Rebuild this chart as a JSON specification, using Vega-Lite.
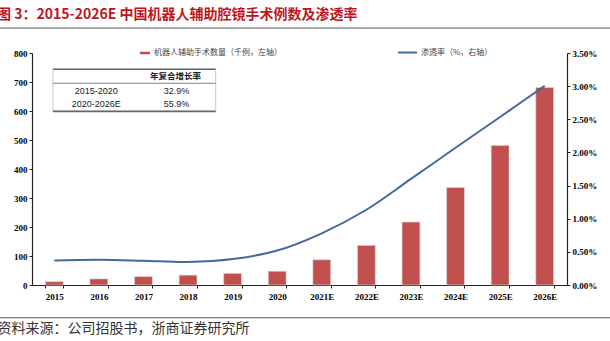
{
  "$schema": "https://vega.github.io/schema/vega-lite/v6.json",
  "width": 535,
  "height": 232,
  "autosize": {"type": "none"},
  "padding": {"left": 32, "top": 53, "right": 43, "bottom": 56},
  "background": "white",
  "title": {
    "text": "图 3：2015-2026E 中国机器人辅助腔镜手术例数及渗透率",
    "anchor": "start",
    "frame": "group",
    "dx": -35,
    "offset": 6,
    "font": "Noto Sans CJK SC",
    "fontSize": 14,
    "fontWeight": "bold",
    "color": "#C0141E"
  },
  "datasets": {
    "main": [
      {"year": "2015", "cases": 11.5, "rate": 0.00371},
      {"year": "2016", "cases": 21, "rate": 0.0038},
      {"year": "2017", "cases": 29, "rate": 0.00366},
      {"year": "2018", "cases": 34, "rate": 0.00347},
      {"year": "2019", "cases": 40, "rate": 0.00392},
      {"year": "2020", "cases": 47.5, "rate": 0.0052},
      {"year": "2021E", "cases": 87, "rate": 0.0078},
      {"year": "2022E", "cases": 136.5, "rate": 0.01135},
      {"year": "2023E", "cases": 217, "rate": 0.016},
      {"year": "2024E", "cases": 336.5, "rate": 0.0207},
      {"year": "2025E", "cases": 481, "rate": 0.02535},
      {"year": "2026E", "cases": 681, "rate": 0.03005}
    ],
    "cagr": [
      {"period": "2015-2020", "value": "32.9%"},
      {"period": "2020-2026E", "value": "55.9%"}
    ]
  },
  "config": {
    "view": {"stroke": null},
    "axis": {
      "labelFont": "Liberation Serif",
      "labelFontWeight": "bold",
      "labelFontSize": 9,
      "labelColor": "#000",
      "domainColor": "#222",
      "domainWidth": 1.2,
      "tickColor": "#222",
      "tickSize": 3,
      "grid": false
    },
    "legend": {
      "orient": "none",
      "padding": 0,
      "labelFont": "Noto Sans CJK SC",
      "labelFontSize": 8,
      "labelColor": "#444",
      "title": null
    }
  },
  "layer": [
    {
      "data": {"name": "main"},
      "mark": {"type": "bar", "stroke": "#d8d8d8", "strokeWidth": 0.6},
      "encoding": {
        "x": {
          "field": "year", "type": "nominal", "sort": null,
          "scale": {"paddingInner": 0.6, "paddingOuter": 0.3},
          "axis": {
            "labelAngle": 0, "tickBand": "extent", "tickSize": 3, "labelPadding": 4,
            "title": "资料来源：公司招股书，浙商证券研究所",
            "titleAnchor": "start", "titleAlign": "left", "titleBaseline": "middle",
            "titleX": -35, "titleY": 43,
            "titleFont": "Noto Sans CJK SC", "titleFontWeight": "normal",
            "titleFontSize": 14, "titleColor": "#333"
          }
        },
        "y": {
          "field": "cases", "type": "quantitative",
          "scale": {"domain": [0, 800]},
          "axis": {"orient": "left", "values": [0, 100, 200, 300, 400, 500, 600, 700, 800], "title": null, "labelPadding": 2}
        },
        "fill": {
          "datum": "机器人辅助手术数量（千例，左轴）",
          "scale": {"range": ["#C0504D"]},
          "legend": {
            "legendX": 108, "legendY": -5,
            "symbolType": "M-1,-0.25L1,-0.25L1,0.25L-1,0.25Z",
            "symbolSize": 100, "symbolStrokeWidth": 0, "labelOffset": 4
          }
        }
      }
    },
    {
      "data": {"name": "main"},
      "mark": {"type": "line", "interpolate": "catmull-rom", "strokeWidth": 2},
      "encoding": {
        "x": {"field": "year", "type": "nominal", "sort": null, "axis": null},
        "y": {
          "field": "rate", "type": "quantitative",
          "scale": {"domain": [0, 0.035]},
          "axis": {"orient": "right", "format": ".2%", "values": [0, 0.005, 0.01, 0.015, 0.02, 0.025, 0.03, 0.035], "title": null, "labelPadding": 2}
        },
        "stroke": {
          "datum": "渗透率（%，右轴）",
          "scale": {"range": ["#44699E"]},
          "legend": {
            "legendX": 365, "legendY": -11,
            "symbolType": "stroke", "symbolSize": 360, "symbolStrokeWidth": 2, "labelOffset": 3
          }
        }
      }
    },
    {
      "data": {"values": [{}]},
      "mark": {"type": "rect", "fill": "white", "stroke": "#bdbdbd", "strokeWidth": 0.8},
      "encoding": {
        "x": {"datum": 0.47, "type": "quantitative", "scale": {"domain": [0, 12]}, "axis": null},
        "x2": {"datum": 4.12},
        "y": {"datum": 744, "type": "quantitative", "scale": {"domain": [0, 800]}, "axis": null},
        "y2": {"datum": 598.6}
      }
    },
    {
      "data": {"values": [{"ly": 744, "w": 1.6}, {"ly": 695.5, "w": 0.8}, {"ly": 598.6, "w": 1.6}]},
      "mark": {"type": "rule", "color": "#666"},
      "encoding": {
        "x": {"datum": 0.47, "type": "quantitative", "scale": {"domain": [0, 12]}, "axis": null},
        "x2": {"datum": 4.12},
        "y": {"field": "ly", "type": "quantitative", "scale": {"domain": [0, 800]}, "axis": null},
        "strokeWidth": {"field": "w", "type": "quantitative", "scale": null, "legend": null}
      }
    },
    {
      "data": {"values": [{}]},
      "mark": {"type": "text", "text": "年复合增长率", "font": "Noto Sans CJK SC", "fontSize": 8.5, "fontWeight": "bold", "color": "#222"},
      "encoding": {
        "x": {"datum": 3.22, "type": "quantitative", "scale": {"domain": [0, 12]}, "axis": null},
        "y": {"datum": 720, "type": "quantitative", "scale": {"domain": [0, 800]}, "axis": null}
      }
    },
    {
      "data": {"name": "cagr"},
      "mark": {"type": "text", "font": "Liberation Sans", "fontSize": 9, "color": "#222"},
      "encoding": {
        "x": {"datum": 1.44, "type": "quantitative", "scale": {"domain": [0, 12]}, "axis": null},
        "y": {"field": "period", "type": "nominal", "scale": {"type": "point", "padding": 0, "domain": ["2015-2020", "2020-2026E"], "range": [38, 51]}, "axis": null},
        "text": {"field": "period"}
      }
    },
    {
      "data": {"name": "cagr"},
      "mark": {"type": "text", "font": "Liberation Sans", "fontSize": 9, "color": "#222"},
      "encoding": {
        "x": {"datum": 3.24, "type": "quantitative", "scale": {"domain": [0, 12]}, "axis": null},
        "y": {"field": "period", "type": "nominal", "scale": {"type": "point", "padding": 0, "domain": ["2015-2020", "2020-2026E"], "range": [38, 51]}, "axis": null},
        "text": {"field": "value"}
      }
    },
    {
      "data": {"values": [{"ly": 886, "c": "top"}, {"ly": -113, "c": "bottom"}]},
      "mark": {"type": "rule", "color": "#555", "strokeWidth": 1, "clip": false},
      "encoding": {
        "x": {"datum": -0.72, "type": "quantitative", "scale": {"domain": [0, 12]}, "axis": null},
        "x2": {"datum": 12.99},
        "y": {"field": "ly", "type": "quantitative", "scale": {"domain": [0, 800]}, "axis": null}
      }
    }
  ],
  "resolve": {"scale": {"x": "independent", "y": "independent", "fill": "independent", "stroke": "independent", "strokeWidth": "independent"}}
}
